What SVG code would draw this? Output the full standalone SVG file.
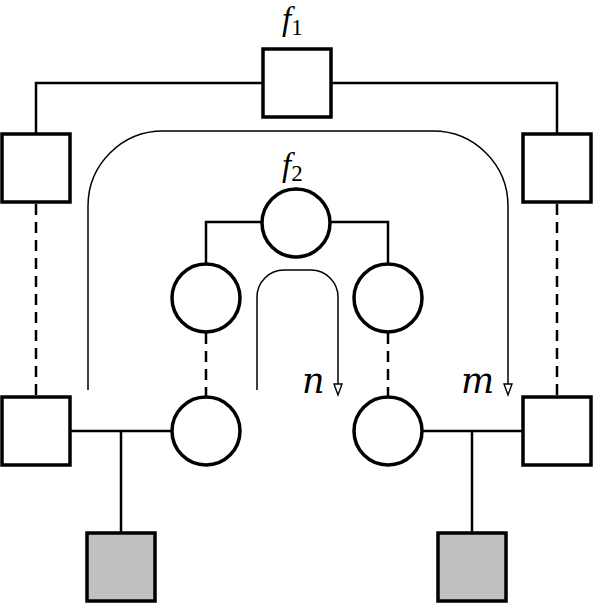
<svg xmlns="http://www.w3.org/2000/svg" width="594" height="603" viewBox="0 0 594 603">
<defs>
<style>
.node{fill:#fff;stroke:#000;stroke-width:3.5}
.aff{fill:#c0c0c0;stroke:#000;stroke-width:3.5}
.link{fill:none;stroke:#000;stroke-width:2.5}
.dash{fill:none;stroke:#000;stroke-width:2.5;stroke-dasharray:11 7}
.flow{fill:none;stroke:#000;stroke-width:1.5}
.lbl{font-family:"Liberation Serif","DejaVu Serif",serif;font-style:italic;font-size:33px;fill:#000}
.var{font-family:"DejaVu Serif","Liberation Serif",serif;font-style:italic;font-size:35px;fill:#000}
.sub{font-family:"Liberation Serif","DejaVu Serif",serif;font-style:normal;font-size:23px}
</style>
</defs>
<g id="connectors">
<path class="link" d="M263,83 H36 V134"/>
<path class="link" d="M331,83 H557 V134"/>
<path class="dash" d="M36,204 V397"/>
<path class="dash" d="M557,204 V397"/>
<path class="link" d="M262,222 H206 V264"/>
<path class="link" d="M330,222 H388 V264"/>
<path class="dash" d="M206,333 V397"/>
<path class="dash" d="M388,333 V397"/>
<path class="link" d="M70,431 H172"/>
<path class="link" d="M121,431 V533"/>
<path class="link" d="M422,431 H523"/>
<path class="link" d="M472,431 V533"/>
<path class="flow" d="M88,390 V206 A75,75 0 0 1 163,131 H433 A75,75 0 0 1 508,206 V384"/>
<path class="flow" d="M257,390 V297 A27,27 0 0 1 284,270 H311 A27,27 0 0 1 338,297 V384"/>
<polygon points="504,384 512,384 508,395" fill="#fff" stroke="#000" stroke-width="1.4"/>
<polygon points="334,384 342,384 338,395" fill="#fff" stroke="#000" stroke-width="1.4"/>
</g>
<g id="f1">
<rect class="node" x="263" y="49" width="68" height="68"/>
<text class="lbl" x="282" y="30">f<tspan class="sub" dy="5">1</tspan></text>
</g>
<g id="left-top"><rect class="node" x="2" y="134" width="68" height="68"/></g>
<g id="right-top"><rect class="node" x="523" y="134" width="68" height="68"/></g>
<g id="f2">
<circle class="node" cx="296" cy="223" r="34"/>
<text class="lbl" x="282" y="176">f<tspan class="sub" dy="5">2</tspan></text>
</g>
<g id="left-mid"><circle class="node" cx="206" cy="298" r="34"/></g>
<g id="right-mid"><circle class="node" cx="388" cy="298" r="34"/></g>
<g id="left-bottom-square"><rect class="node" x="2" y="397" width="68" height="68"/></g>
<g id="left-bottom-circle"><circle class="node" cx="206" cy="431" r="34"/></g>
<g id="right-bottom-circle"><circle class="node" cx="388" cy="431" r="34"/></g>
<g id="right-bottom-square"><rect class="node" x="523" y="397" width="68" height="68"/></g>
<g id="left-child"><rect class="aff" x="87" y="533" width="68" height="68"/></g>
<g id="right-child"><rect class="aff" x="438" y="533" width="68" height="68"/></g>
<g id="label-n"><text class="var" x="302" y="393">n</text></g>
<g id="label-m"><text class="var" x="461" y="393">m</text></g>
</svg>
